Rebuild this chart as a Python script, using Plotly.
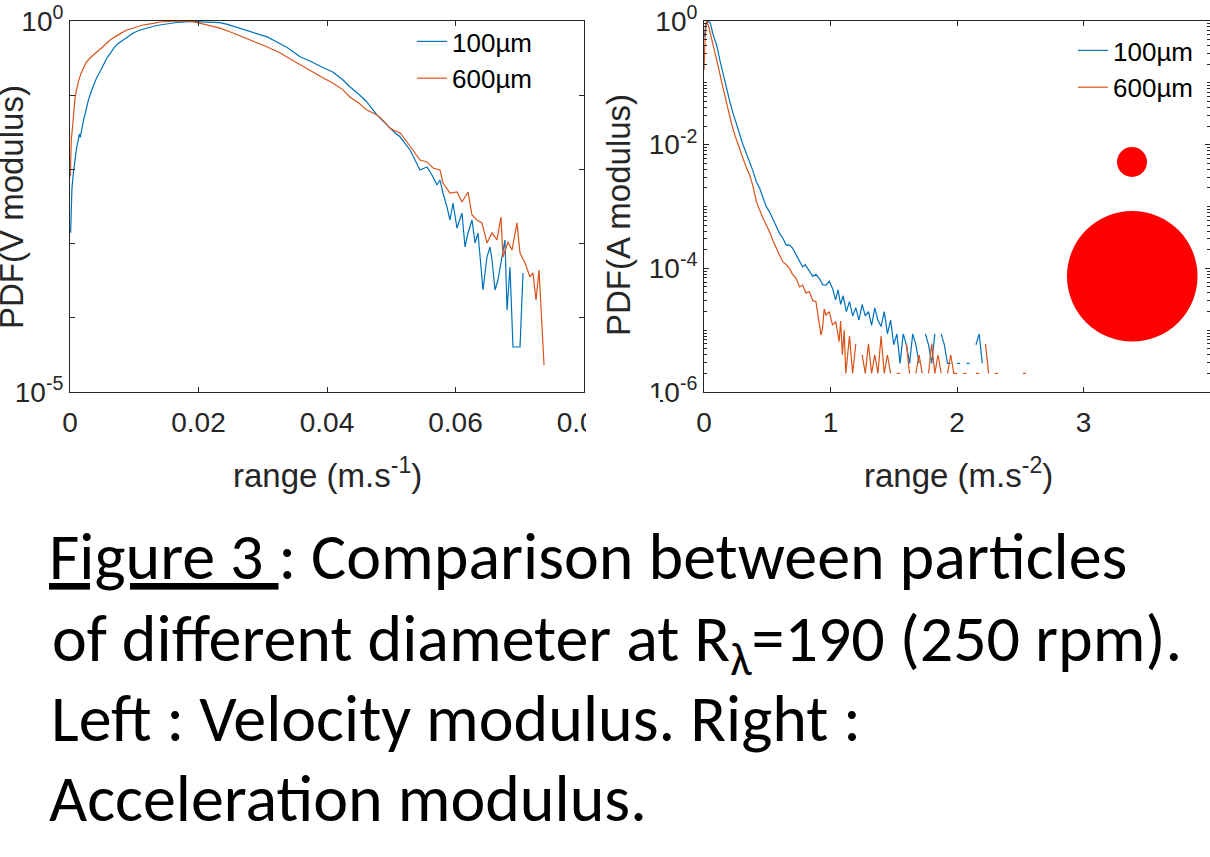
import plotly.graph_objects as go

# ---------------- data: left panel (velocity modulus PDF) ----------------
v100_x = [0.00010, 0.00030, 0.00050, 0.00075, 0.00100, 0.00125, 0.00145, 0.00160, 0.00185, 0.00210,
          0.00240, 0.00285, 0.00330, 0.00365, 0.00410, 0.00470, 0.00520, 0.00575, 0.00630, 0.00680,
          0.00740, 0.00830, 0.00900, 0.00985, 0.01080, 0.01190, 0.01300, 0.01400, 0.01530, 0.01660,
          0.01800, 0.01910, 0.02050, 0.02200, 0.02330, 0.02450, 0.02540, 0.02700, 0.02850, 0.03000,
          0.03070, 0.03220, 0.03380, 0.03580, 0.03750, 0.03920, 0.04090, 0.04250, 0.04360, 0.04500,
          0.04620, 0.04700, 0.04780, 0.04880, 0.04980, 0.05060, 0.05140,
          0.05292, 0.05370, 0.05447, 0.05556, 0.05634, 0.05712, 0.05759, 0.05805, 0.05868, 0.05914,
          0.05961, 0.06023, 0.06101, 0.06148, 0.06195, 0.06257, 0.06304, 0.06350, 0.06428, 0.06490,
          0.06537, 0.06568, 0.06615, 0.06661, 0.06724, 0.06770, 0.06802, 0.06848, 0.06895, 0.07004,
          0.07051]
v100_y = [1.4e-3, 5.5e-3, 8.5e-3, 0.0135, 0.019, 0.024, 0.030, 0.027, 0.037, 0.046,
          0.058, 0.085, 0.112, 0.137, 0.168, 0.210, 0.255, 0.317, 0.370, 0.430,
          0.490, 0.555, 0.620, 0.689, 0.750, 0.805, 0.850, 0.883, 0.920, 0.955,
          0.975, 0.990, 0.975, 0.960, 0.950, 0.900, 0.850, 0.770, 0.700, 0.640,
          0.610, 0.520, 0.440, 0.330, 0.285, 0.240, 0.205, 0.160, 0.129, 0.102,
          0.081, 0.066, 0.054, 0.044, 0.0361, 0.031, 0.0273,
          0.01826, 0.01338, 0.00982, 0.01077, 0.00841, 0.00616, 0.00719, 0.00481, 0.00311, 0.00208,
          0.00352, 0.00162, 0.00258, 0.000900, 0.00139, 0.00208, 0.00102, 0.00139, 0.000237, 0.000659,
          0.000900, 0.000601, 0.000237, 0.000323, 0.000659, 0.00112, 0.000127, 0.000484, 4.04e-5, 4.04e-5,
          0.000402]

v600_x = [0.00005, 0.00020, 0.00042, 0.00060, 0.00078, 0.00100, 0.00129, 0.00170, 0.00207, 0.00250,
          0.00311, 0.00360, 0.00416, 0.00500, 0.00623, 0.00750, 0.00882, 0.01000, 0.01136, 0.01300,
          0.01400, 0.01550, 0.01661, 0.01800, 0.01914, 0.02030, 0.02132, 0.02250, 0.02335, 0.02537,
          0.02800, 0.03070, 0.03250, 0.03380, 0.03580, 0.03750, 0.03920, 0.04090, 0.04250, 0.04360,
          0.04500, 0.04620, 0.04700, 0.04780, 0.04880, 0.04980, 0.05060, 0.05140,
          0.05245, 0.05339, 0.05447, 0.05556, 0.05650, 0.05759, 0.05805, 0.05914, 0.06023, 0.06101,
          0.06195, 0.06257, 0.06335, 0.06412, 0.06490, 0.06568, 0.06646, 0.06708, 0.06739, 0.06817,
          0.06879, 0.06957, 0.07004, 0.07082, 0.07160, 0.07206, 0.07253, 0.07300, 0.07331, 0.07362,
          0.07378]
v600_y = [8.0e-3, 0.025, 0.0397, 0.065, 0.092, 0.115, 0.151, 0.195, 0.233, 0.275,
          0.317, 0.350, 0.382, 0.440, 0.555, 0.650, 0.756, 0.810, 0.883, 0.930,
          0.969, 0.985, 1.000, 0.995, 0.980, 0.930, 0.880, 0.840, 0.800, 0.690,
          0.560, 0.446, 0.380, 0.327, 0.255, 0.215, 0.175, 0.146, 0.118, 0.094,
          0.078, 0.063, 0.058, 0.054, 0.045, 0.0361, 0.033, 0.031,
          0.0234, 0.01826, 0.01338, 0.0126, 0.01045, 0.00982, 0.00656, 0.00481, 0.00496, 0.00364,
          0.00496, 0.00243, 0.00208, 0.0019, 0.00102, 0.00139, 0.00112, 0.00228, 0.000659, 0.00105,
          0.00082, 0.0019, 0.000747, 0.000548, 0.000355, 0.000402, 0.000174, 0.000441, 0.000116, 4.57e-5,
          2.31e-5]

# ---------------- data: right panel (acceleration modulus PDF) ----------------
a100_x = [0.003, 0.015, 0.034, 0.050, 0.070, 0.0997, 0.125, 0.152, 0.178, 0.204,
          0.230, 0.257, 0.283, 0.309, 0.335, 0.361, 0.388, 0.414, 0.440, 0.466,
          0.4925, 0.518, 0.5445, 0.571, 0.597, 0.623, 0.6496, 0.675, 0.7015, 0.728,
          0.754, 0.780, 0.800, 0.833, 0.860, 0.885, 0.911, 0.940, 0.964, 0.990,
          1.016, 1.040, 1.060, 1.080, 1.100, 1.125, 1.150, 1.175, 1.200, 1.225,
          1.250, 1.275, 1.300, 1.325, 1.350, 1.375, 1.400, 1.425, 1.450, 1.475,
          1.500, 1.525, 1.550, 1.575, 1.600, 1.625, 1.650, 1.675, 1.700, 1.725,
          1.750, 1.775, 1.800, 1.825, 1.850, 1.875, 1.900, 1.925, 1.950, 1.975,
          2.000, 2.025, 2.050, 2.075, 2.100, 2.125, 2.150, 2.175, 2.200, 2.225]
a100_y = [0.55, 0.92, 1.0, 0.93, 0.62, 0.409, 0.235, 0.134, 0.082, 0.0495,
          0.032, 0.0208, 0.0143, 0.00988, 0.0072, 0.00531, 0.0037, 0.00252, 0.00197, 0.0014,
          0.000993, 0.00082, 0.000644, 0.00048, 0.000368, 0.00031, 0.000238, 0.00024, 0.000210, 0.000165,
          0.000128, 0.000105, 0.000115, 8.81e-5, 7.4e-5, 8.0e-5, 6.89e-5, 5.4e-5, 5.37e-5, 6.2e-5,
          4.74e-5, 3.1e-5, 4.5e-5, 2.6e-5, 3.6e-5, 2.0e-5, 2.9e-5, 1.7e-5, 2.3e-5, 1.45e-5,
          2.6e-5, 1.7e-5, 2.0e-5, 1.2e-5, 2.3e-5, 1.45e-5, 1.15e-5, 2.0e-5, 8.7e-6, 1.45e-5,
          5.8e-6, 8.7e-6, 2.9e-6, 8.7e-6, 5.8e-6, 2.9e-6, 8.7e-6, 5.8e-6, 2.9e-6, None,
          8.7e-6, 5.8e-6, 2.9e-6, 8.7e-6, None, 8.7e-6, 5.8e-6, 2.9e-6, 2.9e-6, None,
          2.9e-6, 2.9e-6, None, 2.9e-6, 2.9e-6, None, 5.8e-6, 8.7e-6, 2.9e-6, None]

a600_x = [0.000, 0.010, 0.020, 0.034, 0.060, 0.0864, 0.112, 0.139, 0.165, 0.191,
          0.217, 0.2435, 0.270, 0.296, 0.330, 0.361, 0.388, 0.414, 0.440, 0.466,
          0.492, 0.518, 0.545, 0.571, 0.597, 0.623, 0.650, 0.6756, 0.700, 0.728,
          0.755, 0.780, 0.805, 0.833, 0.860, 0.885, 0.900, 0.925, 0.937, 0.950,
          0.964, 0.990, 1.016, 1.042, 1.068, 1.080, 1.094, 1.108, 1.121, 1.150,
          1.175, 1.200, 1.225, 1.250, 1.275, 1.300, 1.325, 1.350, 1.375, 1.400,
          1.425, 1.450, 1.475, 1.500, 1.525, 1.550, 1.575, 1.600, 1.625, 1.650,
          1.675, 1.700, 1.725, 1.750, 1.775, 1.800, 1.825, 1.850, 1.875, 1.900,
          1.925, 1.950, 1.975, 2.000, 2.025, 2.050, 2.075, 2.100, 2.125, 2.150,
          2.175, 2.200, 2.225, 2.250, 2.275, 2.300, 2.325, 2.350, 2.520, 2.545]
a600_y = [0.161, 0.6, 1.0, 0.86, 0.52, 0.319, 0.185, 0.1044, 0.06, 0.0342,
          0.022, 0.0143, 0.0098, 0.0068, 0.0045, 0.00323, 0.0021, 0.0012, 0.00085, 0.000644,
          0.0005, 0.000392, 0.00028, 0.00021, 0.000165, 0.000128, 0.000115, 1.0e-4, 8.0e-5, 6.89e-5,
          5.0e-5, 5.37e-5, 4.0e-5, 4.19e-5, 3.0e-5, 2.88e-5, 1.76e-5, 8.3e-6, 1.07e-5, 2.2e-5,
          1.76e-5, 2.0e-5, 1.21e-5, 1.37e-5, 6.5e-6, 1.4e-5, 4.0e-6, 1.0e-5, 2.0e-6, 8.0e-6,
          2.0e-6, 6.0e-6, None, 4.0e-6, 2.0e-6, 6.0e-6, 2.0e-6, 4.0e-6, 2.0e-6, 8.0e-6,
          2.0e-6, 4.0e-6, 2.0e-6, None, 2.0e-6, 2.0e-6, None, 6.0e-6, 2.0e-6, None,
          2.0e-6, 4.0e-6, 2.0e-6, None, 2.0e-6, 6.0e-6, 2.0e-6, 4.0e-6, 2.0e-6, None,
          2.0e-6, 4.0e-6, 2.0e-6, 2.0e-6, None, 2.0e-6, 2.0e-6, None, None, 2.0e-6,
          2.0e-6, None, 6.0e-6, 2.0e-6, None, 2.0e-6, 2.0e-6, None, 2.0e-6, 2.0e-6]

series_names = ["100µm", "600µm"]
left_xticks = [0, 0.02, 0.04, 0.06, 0.08]
left_xticktext = ["0", "0.02", "0.04", "0.06", "0.08"]
right_xticks = [0, 1, 2, 3, 4]
right_xticktext = ["0", "1", "2", "3", "4"]
left_yticks = [1e-5, 1e-4, 1e-3, 1e-2, 1e-1, 1]
left_yticktext = ["10<sup>-5</sup>", "", "", "", "", "10<sup>0</sup>"]
right_yticks = [1e-6, 1e-4, 1e-2, 1]
right_yticktext = ["10<sup>-6</sup>", "10<sup>-4</sup>", "10<sup>-2</sup>", "10<sup>0</sup>"]

caption_lines = [
    "<u>Figure 3 </u>: Comparison between particles",
    "of different diameter at R<sub>λ</sub>=190 (250 rpm).",
    "Left : Velocity modulus. Right :",
    "Acceleration modulus.",
]

# ---------------- figure ----------------
W, H = 1210, 857
BLUE = "#0072BD"
ORANGE = "#D95319"
AX = "#262626"
FONT = "Liberation Sans, Arial, sans-serif"

def px(x):
    return x / W

def py(y):
    return 1 - y / H

fig = go.Figure()
fig.add_trace(go.Scatter(x=v100_x, y=v100_y, mode="lines", name=series_names[0],
                         line=dict(color=BLUE, width=1.2), xaxis="x", yaxis="y", legend="legend"))
fig.add_trace(go.Scatter(x=v600_x, y=v600_y, mode="lines", name=series_names[1],
                         line=dict(color=ORANGE, width=1.2), xaxis="x", yaxis="y", legend="legend"))
fig.add_trace(go.Scatter(x=a100_x, y=a100_y, mode="lines", name=series_names[0], connectgaps=False,
                         line=dict(color=BLUE, width=1.2), xaxis="x2", yaxis="y2", legend="legend2"))
fig.add_trace(go.Scatter(x=a600_x, y=a600_y, mode="lines", name=series_names[1], connectgaps=False,
                         line=dict(color=ORANGE, width=1.2), xaxis="x2", yaxis="y2", legend="legend2"))

axis_common = dict(showline=True, linecolor=AX, linewidth=1, mirror="ticks", ticks="inside",
                   ticklen=5, tickcolor=AX, showgrid=False, zeroline=False, automargin=False,
                   tickfont=dict(family=FONT, size=28, color=AX))

ydom = [py(392), py(21)]
minor_vals = [k * 10.0 ** n for n in range(-6, 0) for k in range(2, 10)] + [1e-5, 1e-3, 1e-1]

fig.update_layout(
    width=W, height=H,
    margin=dict(l=0, r=0, t=0, b=0, autoexpand=False),
    paper_bgcolor="white", plot_bgcolor="white",
    xaxis=dict(domain=[px(70), px(584)], range=[0, 0.08], anchor="y",
               tickmode="array", tickvals=left_xticks, ticktext=left_xticktext,
               ticklabelstandoff=5, **axis_common),
    yaxis=dict(domain=ydom, type="log", range=[-5, 0], anchor="x",
               tickmode="array", tickvals=left_yticks, ticktext=left_yticktext, **axis_common),
    xaxis2=dict(domain=[px(704), 1.0], range=[0, 4], anchor="y2",
                tickmode="array", tickvals=right_xticks, ticktext=right_xticktext,
                ticklabelstandoff=5, **axis_common),
    yaxis2=dict(domain=ydom, type="log", range=[-6, 0], anchor="x2",
                tickmode="array", tickvals=right_yticks, ticktext=right_yticktext,
                minor=dict(tickmode="array", tickvals=minor_vals, ticks="inside", ticklen=3,
                           tickcolor=AX, showgrid=False),
                **axis_common),
    legend=dict(x=px(412), y=py(18), xanchor="left", yanchor="top", bgcolor="rgba(0,0,0,0)",
                font=dict(family=FONT, size=26, color="black"), tracegroupgap=0),
    legend2=dict(x=px(1073), y=py(27), xanchor="left", yanchor="top", bgcolor="rgba(0,0,0,0)",
                 font=dict(family=FONT, size=26, color="black"), tracegroupgap=0),
    showlegend=True,
)

shapes = [
    # crop of the left panel's last tick label (as in the original slide)
    dict(type="rect", xref="paper", yref="paper", x0=px(586), x1=px(660), y0=py(450), y1=py(398),
         fillcolor="white", line=dict(width=0), layer="above"),
    # particle size illustration
    dict(type="circle", xref="paper", yref="paper", x0=px(1117), x1=px(1147), y0=py(177), y1=py(147),
         fillcolor="#FF0000", line=dict(width=0), layer="above"),
    dict(type="circle", xref="paper", yref="paper", x0=px(1067), x1=px(1197.5), y0=py(341.5), y1=py(211),
         fillcolor="#FF0000", line=dict(width=0), layer="above"),
]
fig.update_layout(shapes=shapes)

ann = []
ann.append(dict(text="range (m.s<sup>-1</sup>)", x=px(327), y=py(473), xref="paper", yref="paper",
                showarrow=False, xanchor="center", yanchor="middle",
                font=dict(family=FONT, size=33, color=AX)))
ann.append(dict(text="range (m.s<sup>-2</sup>)", x=px(958), y=py(473), xref="paper", yref="paper",
                showarrow=False, xanchor="center", yanchor="middle",
                font=dict(family=FONT, size=33, color=AX)))
ann.append(dict(text="PDF(V modulus)", x=px(11), y=py(207), xref="paper", yref="paper", textangle=-90,
                showarrow=False, xanchor="center", yanchor="middle",
                font=dict(family=FONT, size=33, color=AX)))
ann.append(dict(text="PDF(A modulus)", x=px(619), y=py(215), xref="paper", yref="paper", textangle=-90,
                showarrow=False, xanchor="center", yanchor="middle",
                font=dict(family=FONT, size=33, color=AX)))

CAP_FONT = "Carlito, Lato, sans-serif"
cap_tops = [514, 596, 676, 756]
cap_x = [47, 50, 49, 47]
for line, yt, xc in zip(caption_lines, cap_tops, cap_x):
    ann.append(dict(text=line, x=px(xc), y=py(yt), xref="paper", yref="paper", showarrow=False,
                    xanchor="left", yanchor="top", font=dict(family=CAP_FONT, size=66, color="black")))
fig.update_layout(annotations=ann)

# remove the default 8px page margin so the figure fills the window exactly
fig.write_html("out.html", config={"displayModeBar": False},
               post_script="document.body.style.margin='0px';")
